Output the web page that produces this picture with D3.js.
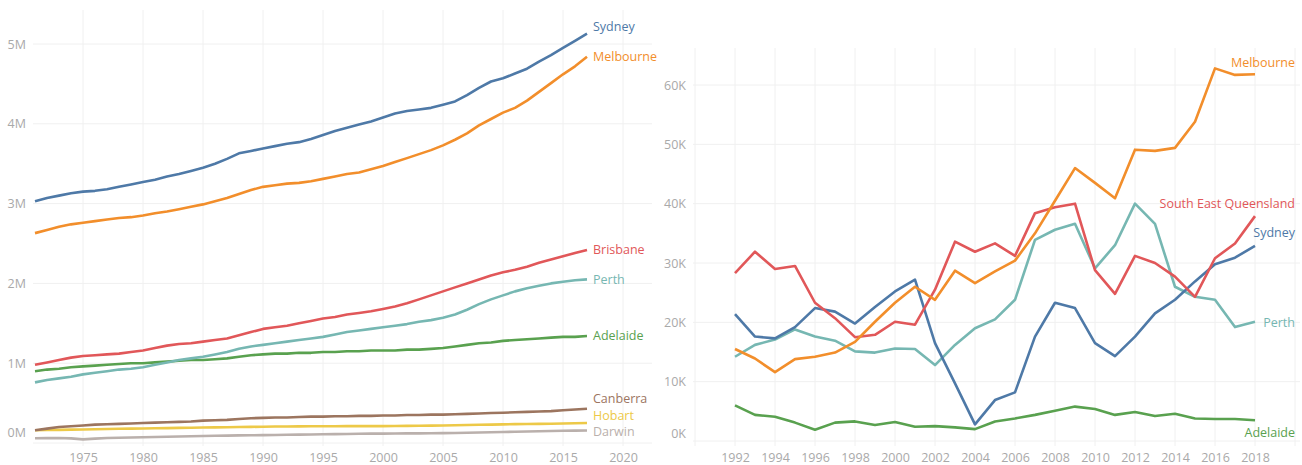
<!DOCTYPE html>
<html>
<head>
<meta charset="utf-8">
<script src="https://cdn.jsdelivr.net/npm/d3@7"></script>
<style>
  body { margin: 0; background: #fff; }
  svg text { font-family: "Open Sans", sans-serif; }
</style>
</head>
<body>
<svg id="chart" width="1302" height="465"></svg>
<script>
// ---- left: capital city population, millions ----
const popYears = d3.range(1971, 2018);
const sydneyPop = [3.03, 3.07, 3.10, 3.13, 3.15, 3.16, 3.18, 3.21, 3.24, 3.27, 3.30, 3.34, 3.37, 3.41, 3.45, 3.50, 3.56, 3.63, 3.66, 3.69, 3.72, 3.75, 3.77, 3.81, 3.86, 3.91, 3.95, 3.99, 4.03, 4.08, 4.13, 4.16, 4.18, 4.20, 4.24, 4.28, 4.36, 4.45, 4.53, 4.57, 4.63, 4.69, 4.78, 4.86, 4.95, 5.04, 5.13];
const melbournePop = [2.63, 2.67, 2.71, 2.74, 2.76, 2.78, 2.80, 2.82, 2.83, 2.85, 2.88, 2.90, 2.93, 2.96, 2.99, 3.03, 3.07, 3.12, 3.17, 3.21, 3.23, 3.25, 3.26, 3.28, 3.31, 3.34, 3.37, 3.39, 3.43, 3.47, 3.52, 3.57, 3.62, 3.67, 3.73, 3.80, 3.88, 3.98, 4.06, 4.14, 4.20, 4.29, 4.40, 4.51, 4.62, 4.72, 4.84];
const brisbanePop = [0.98, 1.01, 1.04, 1.07, 1.09, 1.10, 1.11, 1.12, 1.14, 1.16, 1.19, 1.22, 1.24, 1.25, 1.27, 1.29, 1.31, 1.35, 1.39, 1.43, 1.45, 1.47, 1.50, 1.53, 1.56, 1.58, 1.61, 1.63, 1.65, 1.68, 1.71, 1.75, 1.80, 1.85, 1.90, 1.95, 2.00, 2.05, 2.10, 2.14, 2.17, 2.21, 2.26, 2.30, 2.34, 2.38, 2.42];
const perthPop = [0.76, 0.79, 0.81, 0.83, 0.86, 0.88, 0.90, 0.92, 0.93, 0.95, 0.98, 1.01, 1.04, 1.06, 1.08, 1.11, 1.14, 1.18, 1.21, 1.23, 1.25, 1.27, 1.29, 1.31, 1.33, 1.36, 1.39, 1.41, 1.43, 1.45, 1.47, 1.49, 1.52, 1.54, 1.57, 1.61, 1.67, 1.74, 1.80, 1.85, 1.90, 1.94, 1.97, 2.00, 2.02, 2.04, 2.05];
const adelaidePop = [0.90, 0.92, 0.93, 0.95, 0.96, 0.97, 0.98, 0.99, 1.00, 1.00, 1.01, 1.02, 1.03, 1.04, 1.04, 1.05, 1.06, 1.08, 1.10, 1.11, 1.12, 1.12, 1.13, 1.13, 1.14, 1.14, 1.15, 1.15, 1.16, 1.16, 1.16, 1.17, 1.17, 1.18, 1.19, 1.21, 1.23, 1.25, 1.26, 1.28, 1.29, 1.30, 1.31, 1.32, 1.33, 1.33, 1.34];
const canberraPop = [0.16, 0.18, 0.20, 0.21, 0.22, 0.23, 0.235, 0.24, 0.245, 0.25, 0.255, 0.26, 0.265, 0.27, 0.28, 0.285, 0.29, 0.30, 0.31, 0.315, 0.32, 0.32, 0.325, 0.33, 0.33, 0.335, 0.335, 0.34, 0.34, 0.345, 0.345, 0.35, 0.35, 0.355, 0.355, 0.36, 0.365, 0.37, 0.375, 0.38, 0.385, 0.39, 0.395, 0.40, 0.41, 0.42, 0.43];
const hobartPop = [0.16, 0.162, 0.165, 0.168, 0.17, 0.172, 0.175, 0.178, 0.18, 0.182, 0.185, 0.187, 0.19, 0.192, 0.194, 0.196, 0.198, 0.2, 0.202, 0.204, 0.206, 0.207, 0.208, 0.209, 0.21, 0.21, 0.211, 0.211, 0.212, 0.212, 0.213, 0.214, 0.216, 0.218, 0.22, 0.222, 0.225, 0.228, 0.23, 0.233, 0.236, 0.238, 0.24, 0.242, 0.244, 0.247, 0.25];
const darwinPop = [0.060, 0.061, 0.062, 0.058, 0.045, 0.055, 0.062, 0.066, 0.069, 0.072, 0.075, 0.078, 0.081, 0.084, 0.087, 0.09, 0.093, 0.095, 0.097, 0.099, 0.101, 0.103, 0.105, 0.107, 0.109, 0.111, 0.113, 0.115, 0.117, 0.118, 0.119, 0.12, 0.121, 0.122, 0.124, 0.126, 0.129, 0.132, 0.135, 0.138, 0.141, 0.144, 0.147, 0.15, 0.153, 0.155, 0.157];
const popTicks = [0, 1, 2, 3, 4, 5];
const popYearTicks = [1975, 1980, 1985, 1990, 1995, 2000, 2005, 2010, 2015, 2020];

// ---- right: yearly population growth, thousands ----
const growthYears = d3.range(1992, 2019);
const melbourneGrowth = [15.5, 13.9, 11.6, 13.8, 14.2, 14.9, 16.7, 20.1, 23.3, 26.0, 23.8, 28.7, 26.6, 28.6, 30.4, 35.0, 40.5, 46.0, 43.5, 40.9, 49.1, 48.9, 49.4, 53.8, 62.8, 61.7, 61.8];
const seqGrowth = [28.3, 31.9, 29.0, 29.5, 23.3, 20.7, 17.5, 17.9, 20.1, 19.6, 25.5, 33.6, 31.9, 33.3, 31.2, 38.4, 39.4, 40.0, 28.8, 24.8, 31.2, 30.0, 27.7, 24.3, 30.8, 33.3, 37.9];
const sydneyGrowth = [21.4, 17.6, 17.3, 19.2, 22.4, 21.8, 19.8, 22.6, 25.2, 27.2, 16.5, 9.7, 2.8, 6.9, 8.2, 17.6, 23.3, 22.4, 16.5, 14.3, 17.6, 21.5, 23.8, 26.9, 29.8, 30.9, 32.9];
const perthGrowth = [14.2, 16.2, 17.1, 18.8, 17.6, 16.9, 15.1, 14.9, 15.6, 15.5, 12.8, 16.2, 19.0, 20.5, 23.8, 33.9, 35.6, 36.6, 29.1, 33.0, 40.0, 36.6, 26.0, 24.3, 23.8, 19.2, 20.1];
const adelaideGrowth = [6.0, 4.4, 4.1, 3.1, 1.9, 3.1, 3.3, 2.7, 3.2, 2.4, 2.5, 2.3, 2.0, 3.3, 3.8, 4.4, 5.1, 5.8, 5.4, 4.4, 4.9, 4.2, 4.6, 3.8, 3.7, 3.7, 3.5];
const growthTicks = [0, 10, 20, 30, 40, 50, 60];
const growthYearTicks = [1992, 1994, 1996, 1998, 2000, 2002, 2004, 2006, 2008, 2010, 2012, 2014, 2016, 2018];
const growthGridYears = [1990, 1992, 1994, 1996, 1998, 2000, 2002, 2004, 2006, 2008, 2010, 2012, 2014, 2016, 2018, 2020];

const colors = {
  Sydney: "#4e79a7", Melbourne: "#f28e2b", Brisbane: "#e15759", "South East Queensland": "#e15759",
  Perth: "#76b7b2", Adelaide: "#59a14f", Canberra: "#9c755f", Hobart: "#edc948", Darwin: "#bab0ac"
};

const leftSeries = [
  { name: "Darwin", values: darwinPop, dy: 1 },
  { name: "Hobart", values: hobartPop, dy: -7 },
  { name: "Canberra", values: canberraPop, dy: -10 },
  { name: "Adelaide", values: adelaidePop, dy: 0 },
  { name: "Perth", values: perthPop, dy: 0 },
  { name: "Brisbane", values: brisbanePop, dy: 0 },
  { name: "Melbourne", values: melbournePop, dy: 0 },
  { name: "Sydney", values: sydneyPop, dy: -7 }
];
const rightSeries = [
  { name: "Adelaide", values: adelaideGrowth, dy: 12 },
  { name: "Perth", values: perthGrowth, dy: 1 },
  { name: "Sydney", values: sydneyGrowth, dy: -13 },
  { name: "South East Queensland", values: seqGrowth, dy: -13 },
  { name: "Melbourne", values: melbourneGrowth, dy: -12 }
];

const svg = d3.select("#chart");
const gridColor = "#f0f0f0";
const tickColor = "#a9a9a9";

function drawPanel(opt) {
  const { x, y, years, series, pane, yTicks, xTicks, xGrid, yFormat } = opt;
  const g = svg.append("g");

  // grid
  g.selectAll("line.hgrid").data(yTicks).join("line")
    .attr("x1", pane.left).attr("x2", pane.right)
    .attr("y1", d => y(d)).attr("y2", d => y(d))
    .attr("stroke", gridColor);
  g.selectAll("line.vgrid").data(xGrid).join("line")
    .attr("x1", d => x(d)).attr("x2", d => x(d))
    .attr("y1", pane.top).attr("y2", pane.bottom)
    .attr("stroke", gridColor);

  // y axis (bottom label pushed up inside the pane, like tableau does)
  const ya = g.append("g")
    .attr("transform", `translate(${pane.left - 3},0)`)
    .call(d3.axisLeft(y).tickValues(yTicks).tickSize(0).tickPadding(4).tickFormat(yFormat));
  ya.select(".domain").remove();
  ya.selectAll(".tick").filter(d => d === 0).select("text").attr("y", opt.zeroShift);

  // x axis
  const xa = g.append("g")
    .attr("transform", `translate(0,${pane.bottom})`)
    .call(d3.axisBottom(x).tickValues(xTicks).tickSize(0).tickPadding(7).tickFormat(d3.format("d")));
  xa.select(".domain").remove();

  [ya, xa].forEach(a => a.selectAll("text")
    .attr("fill", tickColor).style("font-size", "12.5px").style("font-family", "'Open Sans', sans-serif"));

  const line = d3.line()
    .x((d, i) => x(years[i]))
    .y(d => y(d));

  g.selectAll("path.series").data(series).join("path")
    .attr("class", "series")
    .attr("fill", "none")
    .attr("stroke", d => colors[d.name])
    .attr("stroke-width", 2.6)
    .attr("stroke-linejoin", "round")
    .attr("d", d => line(d.values));

  // end labels
  g.selectAll("text.lbl").data(series).join("text")
    .attr("class", "lbl")
    .attr("x", opt.labelX)
    .attr("y", d => y(d.values[d.values.length - 1]) + d.dy)
    .attr("dy", "0.35em")
    .attr("text-anchor", opt.labelAnchor)
    .attr("fill", d => colors[d.name])
    .style("font-size", "12.5px")
    .text(d => d.name);
}

// left panel
drawPanel({
  x: d3.scaleLinear().domain([1975, 2020]).range([83, 623]),
  y: d3.scaleLinear().domain([0, 5]).range([443, 44]),
  years: popYears,
  series: leftSeries,
  pane: { left: 33, right: 652, top: 10, bottom: 446 },
  yTicks: popTicks,
  xTicks: popYearTicks,
  xGrid: popYearTicks,
  yFormat: d => d + "M",
  zeroShift: -11,
  labelX: 593,
  labelAnchor: "start"
});

// right panel
drawPanel({
  x: d3.scaleLinear().domain([1992, 2018]).range([735, 1255]),
  y: d3.scaleLinear().domain([0, 60]).range([441, 85]),
  years: growthYears,
  series: rightSeries,
  pane: { left: 693, right: 1300, top: 48, bottom: 446 },
  yTicks: growthTicks,
  xTicks: growthYearTicks,
  xGrid: growthGridYears,
  yFormat: d => d + "K",
  zeroShift: -8,
  labelX: 1295,
  labelAnchor: "end"
});
</script>
</body>
</html>
